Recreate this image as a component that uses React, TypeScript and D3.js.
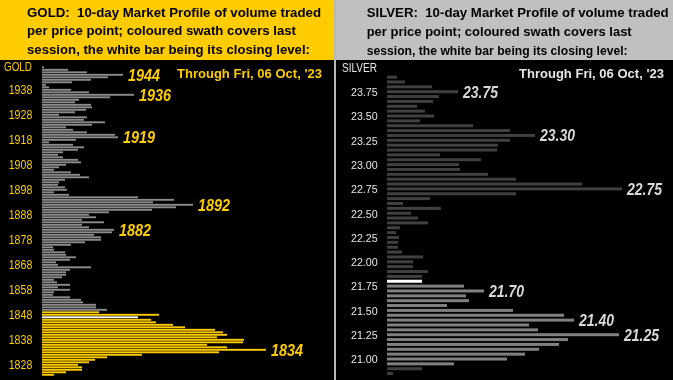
import React from 'react';
import * as d3 from 'd3';

// ---------- GOLD ----------
const goldTopPrice = 1947;
const goldVolumes = [
  2, 26, 45, 81, 66, 49, 30, 4, 7, 29, 47, 92, 68, 37, 33, 49, 50, 44, 33, 17,
  45, 42, 63, 50, 24, 31, 45, 73, 76, 34, 7, 31, 42, 36, 21, 16, 21, 36, 39,
  24, 17, 12, 29, 38, 47, 23, 17, 16, 23, 25, 12, 27, 96, 132, 111, 151, 134, 110, 67,
  47, 54, 40, 62, 40, 47, 72, 70, 52, 59, 59, 43, 29, 11, 12, 23, 24, 34, 28, 14, 16, 49,
  28, 24, 24, 20, 12, 15, 28, 16, 28, 12, 11, 28, 39, 41, 54, 54, 65, 57, 117, 96,
  109, 114, 131, 143, 173, 181, 185, 175, 202, 201, 165, 185, 224, 177, 100, 65, 53, 47,
  36, 40, 40, 24, 12,
];
const goldSessionLow = 1824;
const goldSessionHigh = 1849;
const goldClose = 1847;
const goldTicks = [1938, 1928, 1918, 1908, 1898, 1888, 1878, 1868, 1858, 1848, 1838, 1828];
const goldPeaks = [1944, 1936, 1919, 1892, 1882, 1834];

// ---------- SILVER ----------
const silverTopPrice = 23.9;
const silverVolumes = [
  10, 18, 45, 71, 52, 46, 30, 38, 47, 33,
  86, 123, 148, 123, 111, 110, 53, 94, 72, 73,
  101, 129, 195, 235, 129, 43, 16, 54, 24, 31,
  41, 13, 9, 12, 11, 11, 15, 36, 26, 26,
  41, 35, 35, 77, 97, 79, 82, 60, 126, 177,
  187, 142, 151, 232, 181, 172, 152, 138, 120, 67,
  35, 6,
];
const silverSessionLow = 20.95;
const silverSessionHigh = 21.8;
const silverClose = 21.8;
const silverTicks = [23.75, 23.5, 23.25, 23.0, 22.75, 22.5, 22.25, 22.0, 21.75, 21.5, 21.25, 21.0];
const silverPeaks = [23.75, 23.3, 22.75, 21.7, 21.4, 21.25];

const goldHeader = [
  'GOLD:  10-day Market Profile of volume traded',
  'per price point; coloured swath covers last',
  'session, the white bar being its closing level:',
];
const silverHeader = [
  'SILVER:  10-day Market Profile of volume traded',
  'per price point; coloured swath covers last',
  'session, the white bar being its closing level:',
];
const dateText = "Through Fri, 06 Oct, '23";

const FONT = "'Liberation Sans', Arial, Helvetica, sans-serif";
const YELLOW = '#FFCC00';

export default function App() {
  const W = 673;
  const H = 380;

  const gPrices = goldVolumes.map((_, i) => goldTopPrice - i);
  const gy = d3.scaleLinear().domain([1947, 1824]).range([67.3, 374.8]);
  const gx = d3.scaleLinear().domain([0, 224]).range([42, 266]);

  const sPrices = silverVolumes.map((_, i) => Math.round((silverTopPrice - i * 0.05) * 100) / 100);
  const sy = d3.scaleLinear().domain([23.75, 21.0]).range([91.7, 359]);
  const sx = d3.scaleLinear().domain([0, 235]).range([387, 622]);

  const gHeaderLens = [294, 269, 283];
  const sHeaderLens = [302, 265, 261];
  const baselines = [16.7, 35.4, 54];

  return (
    <svg
      width={W}
      height={H}
      style={{ position: 'fixed', left: 0, top: 0, display: 'block' }}
      fontFamily={FONT}
    >
      {/* panels */}
      <rect x={0} y={0} width={334} height={60} fill={YELLOW} />
      <rect x={336} y={0} width={337} height={60} fill="#C0C0C0" />
      <rect x={0} y={60} width={334} height={320} fill="#000" />
      <rect x={336} y={60} width={337} height={320} fill="#000" />
      <rect x={334} y={0} width={2} height={380} fill="#B8B8B8" />

      {/* headers */}
      {goldHeader.map((t, i) => (
        <text key={'gh' + i} x={27} y={baselines[i]} fontSize={13} fontWeight="bold" fill="#000"
          style={{ whiteSpace: 'pre' }}
          textLength={gHeaderLens[i]} lengthAdjust="spacingAndGlyphs">{t}</text>
      ))}
      {silverHeader.map((t, i) => (
        <text key={'sh' + i} x={366.7} y={baselines[i] + 0.5} fontSize={13} fontWeight="bold" fill="#000"
          style={{ whiteSpace: 'pre' }}
          textLength={sHeaderLens[i]} lengthAdjust="spacingAndGlyphs">{t}</text>
      ))}

      {/* GOLD chart */}
      <text x={4} y={70.5} fontSize={12} fill={YELLOW} textLength={28} lengthAdjust="spacingAndGlyphs">GOLD</text>
      <text x={177} y={78} fontSize={13.5} fontWeight="bold" fill={YELLOW} textLength={145} lengthAdjust="spacingAndGlyphs">{dateText}</text>
      {gPrices.map((p, i) => {
        const inSession = p >= goldSessionLow && p <= goldSessionHigh;
        const fill = p === goldClose ? '#FFFFFF' : inSession ? YELLOW : '#8C8C8C';
        return (
          <rect key={'g' + i} x={gx(0)} y={gy(p) - 0.95} width={gx(goldVolumes[i]) - gx(0)} height={1.9} fill={fill} />
        );
      })}
      {goldTicks.map((t) => (
        <text key={'gt' + t} x={32.3} y={gy(t) + 4.6} fontSize={12.5} fill={YELLOW} textAnchor="end"
          textLength={23.6} lengthAdjust="spacingAndGlyphs">{t}</text>
      ))}
      {goldPeaks.map((p) => {
        const v = goldVolumes[goldTopPrice - p];
        return (
          <text key={'gp' + p} x={gx(v) + 5} y={gy(p) + 6} fontSize={16} fontWeight="bold" fontStyle="italic"
            fill={YELLOW} textLength={32} lengthAdjust="spacingAndGlyphs">{p}</text>
        );
      })}

      {/* SILVER chart */}
      <text x={342} y={72} fontSize={12} fill="#E6E6E6" textLength={35} lengthAdjust="spacingAndGlyphs">SILVER</text>
      <text x={519} y={77.5} fontSize={13.5} fontWeight="bold" fill="#E6E6E6" textLength={145} lengthAdjust="spacingAndGlyphs">{dateText}</text>
      {sPrices.map((p, i) => {
        const inSession = p >= silverSessionLow - 1e-6 && p <= silverSessionHigh + 1e-6;
        const fill = Math.abs(p - silverClose) < 1e-6 ? '#FFFFFF' : inSession ? '#808080' : '#404040';
        return (
          <rect key={'s' + i} x={sx(0)} y={sy(p) - 1.5} width={sx(silverVolumes[i]) - sx(0)} height={3} fill={fill} />
        );
      })}
      {silverTicks.map((t) => (
        <text key={'st' + t} x={377.7} y={sy(t) + 4.3} fontSize={11.5} fill="#E6E6E6" textAnchor="end"
          textLength={26.7} lengthAdjust="spacingAndGlyphs">{t.toFixed(2)}</text>
      ))}
      {silverPeaks.map((p) => {
        const idx = Math.round((silverTopPrice - p) / 0.05);
        const v = silverVolumes[idx];
        return (
          <text key={'sp' + p} x={sx(v) + 5} y={sy(p) + 6} fontSize={16} fontWeight="bold" fontStyle="italic"
            fill="#D9D9D9" textLength={35} lengthAdjust="spacingAndGlyphs">{p.toFixed(2)}</text>
        );
      })}
    </svg>
  );
}
